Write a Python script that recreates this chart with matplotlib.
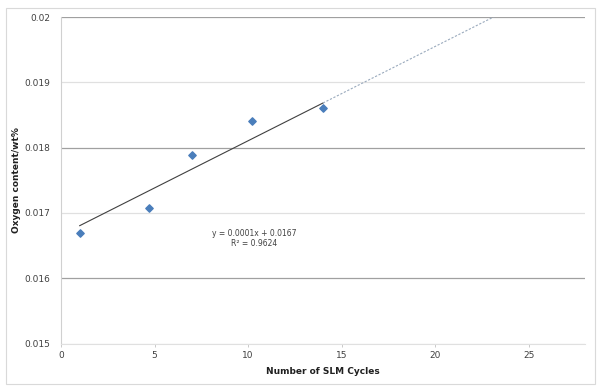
import matplotlib.pyplot as plt
from matplotlib.patches import Rectangle

# data
cycles = [1, 4.7, 7, 10.2, 14]
oxygen = [0.01669, 0.01708, 0.01789, 0.01841, 0.01860]

# trendline as drawn (y = 0.0001x + 0.0167 label, R^2 = 0.9624)
trend_slope = 0.0001445
trend_intercept = 0.01666
trend_end = 28
eq_text = "y = 0.0001x + 0.0167\nR² = 0.9624"

y_ticks = [0.015, 0.016, 0.017, 0.018, 0.019, 0.02]
y_labels = ['0.015', '0.016', '0.017', '0.018', '0.019', '0.02']
x_ticks = [0, 5, 10, 15, 20, 25]

fig = plt.figure(figsize=(6, 3.9), dpi=100)
ax = fig.add_axes([61/600, 1 - 343.5/390, (585 - 61)/600, (343.5 - 17)/390])

# chart border like excel
fig.patches.append(Rectangle((6/600, 6/390), 589/600, 376/390, transform=fig.transFigure,
                             fill=False, edgecolor='#d9d9d9', linewidth=0.8))

# gridlines, alternating dark / light
for i, t in enumerate(y_ticks):
    if i % 2 == 1 or i == len(y_ticks) - 1:
        ax.axhline(t, color='#a0a0a0', lw=0.9, zorder=1)
    else:
        ax.axhline(t, color='#e0e0e0', lw=0.9, zorder=1)

ax.scatter(cycles, oxygen, marker='D', s=14, color='#4a7ebb', zorder=3)

xs = [min(cycles), max(cycles)]
ax.plot(xs, [trend_slope*x + trend_intercept for x in xs], color='#404040', lw=0.8, zorder=2)
xf = [max(cycles), trend_end]
ax.plot(xf, [trend_slope*x + trend_intercept for x in xf], color='#9aaabd', lw=0.8,
        linestyle=(0, (2, 1.5)), zorder=2)

ax.text(10.3, 0.01661, eq_text, ha='center', va='center', multialignment='center',
        fontsize=5.5, color='#404040', linespacing=1.2)

ax.set_xlim(0, 28)
ax.set_ylim(0.015, 0.02)
ax.set_xticks(x_ticks)
ax.set_xticklabels([str(t) for t in x_ticks])
ax.set_yticks(y_ticks)
ax.set_yticklabels(y_labels)
ax.tick_params(axis='both', labelsize=6.5, colors='#404040', length=2, width=0.6)
ax.tick_params(axis='x', color='#c0c0c0')
ax.tick_params(axis='y', length=0, pad=8)

for s in ['top', 'right']:
    ax.spines[s].set_visible(False)
ax.spines['left'].set_color('#d0d0d0')
ax.spines['bottom'].set_color('#e0e0e0')
ax.spines['left'].set_linewidth(0.8)
ax.spines['bottom'].set_linewidth(0.8)

ax.set_xlabel("Number of SLM Cycles", fontsize=6.5, fontweight='bold', color='#202020', labelpad=5)
ax.set_ylabel("Oxygen content/wt%", fontsize=6.5, fontweight='bold', color='#202020', labelpad=2)

fig.savefig('out.png', dpi=100)
